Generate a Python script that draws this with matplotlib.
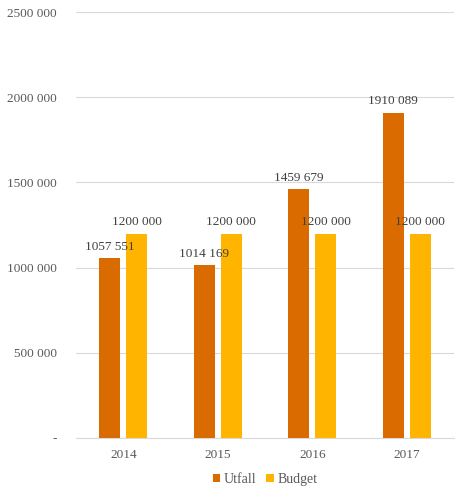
import matplotlib.pyplot as plt
import numpy as np

years = ['2014', '2015', '2016', '2017']
utfall = [1057551, 1014169, 1459679, 1910089]
budget = [1200000, 1200000, 1200000, 1200000]
yticks = [0, 500000, 1000000, 1500000, 2000000, 2500000]

plt.rcParams['font.family'] = ['Liberation Serif', 'DejaVu Serif']

def lab(v):
    # space as thousands separator, only the last group
    s = str(v)
    return s[:-3] + ' ' + s[-3:]

fig = plt.figure(figsize=(4.7, 5.04), dpi=100)
ax = fig.add_axes([0.162, 0.131, 0.804, 0.845])

x = np.arange(len(years))
w = 0.222
off = 0.143
b1 = ax.bar(x - off, utfall, w, color='#d96b00', label='Utfall', zorder=3)
b2 = ax.bar(x + off, budget, w, color='#ffb400', label='Budget', zorder=3)

for bars, vals in ((b1, utfall), (b2, budget)):
    for r, v in zip(bars, vals):
        ax.text(r.get_x() + r.get_width() / 2, v + 30000, lab(v),
                ha='center', va='bottom', fontsize=9.5, color='#404040')

ax.set_xlim(-0.5, len(years) - 0.5)
ax.set_ylim(0, 2500000)
ax.set_yticks(yticks)
ax.set_yticklabels(['-' if t == 0 else lab(t) for t in yticks])
ax.set_xticks(x)
ax.set_xticklabels(years)
ax.tick_params(length=0, labelsize=9.5, colors='#595959', pad=14)
ax.tick_params(axis='x', pad=8)
ax.grid(axis='y', color='#d9d9d9', linewidth=0.8, zorder=0)
for s in ['top', 'right', 'left']:
    ax.spines[s].set_visible(False)
ax.spines['bottom'].set_color('#d9d9d9')

ax.legend(loc='upper center', bbox_to_anchor=(0.5, -0.053), ncol=2, frameon=False,
          handlelength=0.55, handleheight=0.55, handletextpad=0.25, columnspacing=0.7,
          fontsize=10, labelcolor='#595959')

fig.savefig('out.png', dpi=100)
